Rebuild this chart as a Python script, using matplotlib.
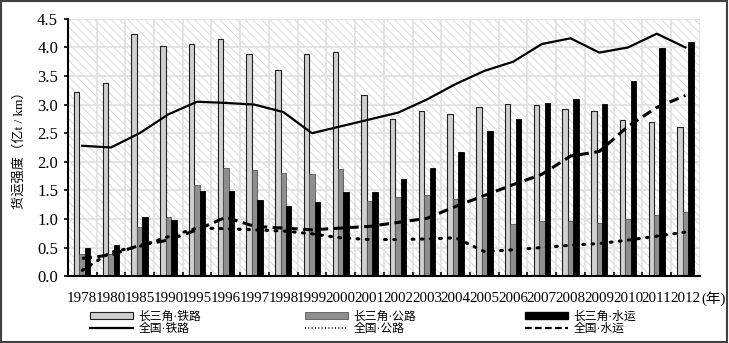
import matplotlib.pyplot as plt
import numpy as np
from matplotlib.lines import Line2D
from matplotlib.patches import Patch, Rectangle

plt.rcParams["font.family"] = ["Liberation Serif", "Noto Sans CJK SC"]
plt.rcParams["hatch.linewidth"] = 0.6
plt.rcParams["hatch.color"] = "#cfcfcf"

YEARS = ["1978", "1980", "1985", "1990", "1995", "1996", "1997", "1998", "1999", "2000", "2001",
         "2002", "2003", "2004", "2005", "2006", "2007", "2008", "2009", "2010", "2011", "2012"]

# Yangtze River Delta freight intensity (bars)
yrd_rail = [3.22, 3.37, 4.23, 4.03, 4.06, 4.14, 3.88, 3.61, 3.89, 3.92, 3.17,
            2.75, 2.89, 2.84, 2.95, 3.01, 3.00, 2.92, 2.89, 2.73, 2.70, 2.60]
yrd_road = [0.39, 0.39, 0.86, 1.03, 1.60, 1.89, 1.85, 1.81, 1.78, 1.88, 1.32,
            1.38, 1.42, 1.35, 1.37, 0.91, 0.97, 0.97, 0.93, 1.00, 1.07, 1.12]
yrd_water = [0.50, 0.54, 1.04, 0.98, 1.49, 1.49, 1.33, 1.22, 1.30, 1.48, 1.48,
             1.70, 1.89, 2.17, 2.54, 2.74, 3.03, 3.09, 3.01, 3.41, 3.99, 4.09]

# national averages (lines)
nat_rail = [2.28, 2.25, 2.50, 2.83, 3.05, 3.03, 3.00, 2.87, 2.50, 2.62, 2.74,
            2.86, 3.09, 3.36, 3.59, 3.75, 4.06, 4.16, 3.91, 4.00, 4.24, 4.00]
nat_road = [0.10, 0.42, 0.52, 0.69, 0.84, 0.83, 0.81, 0.79, 0.74, 0.67, 0.64,
            0.64, 0.65, 0.67, 0.43, 0.46, 0.50, 0.54, 0.57, 0.63, 0.70, 0.77]
nat_water = [0.31, 0.37, 0.54, 0.63, 0.81, 1.03, 0.87, 0.84, 0.81, 0.84, 0.87,
             0.94, 1.01, 1.22, 1.41, 1.60, 1.78, 2.10, 2.18, 2.62, 2.95, 3.16]

LIGHT, MID = "#d0d0d0", "#8e8e8e"
W_PX, H_PX = 729, 343

fig = plt.figure(figsize=(W_PX / 100, H_PX / 100), dpi=100)
ax = fig.add_axes([0.093, 0.195, 0.867, 0.75])

x = np.arange(len(YEARS))
w = 0.19

# hatched background with light grid
ax.add_patch(Rectangle((0, 0), 1, 1, transform=ax.transAxes, facecolor="white",
                       edgecolor="#d4d4d4", hatch="\\\\\\\\", lw=0, zorder=0))
for yv in np.arange(0.5, 4.51, 0.5):
    ax.axhline(yv, color="#e2e2e2", lw=1.3, zorder=0.5)
for xv in np.arange(0.5, len(YEARS), 1):
    ax.axvline(xv, color="#e2e2e2", lw=1.3, zorder=0.5)

ax.bar(x - w, yrd_rail, w, color=LIGHT, edgecolor="#202020", lw=0.8, zorder=2)
ax.bar(x, yrd_road, w, color=MID, edgecolor="#555555", lw=0.6, zorder=2)
ax.bar(x + w, yrd_water, w, color="black", edgecolor="black", lw=0.6, zorder=2)

dot_ls = (0, (0.6, 2.4))
dash_ls = (0, (3.2, 1.8))
ax.plot(x, nat_rail, color="black", lw=1.6, zorder=3)
ax.plot(x, nat_road, color="black", lw=2.2, ls=dot_ls, dash_capstyle="round", zorder=3)
ax.plot(x, nat_water, color="black", lw=2.2, ls=dash_ls, zorder=3)

ax.set_xlim(-0.5, len(YEARS) - 0.5)
ax.set_ylim(0, 4.5)
ax.set_yticks(np.arange(0, 4.51, 0.5))
ax.set_yticklabels([f"{v:.1f}" for v in np.arange(0, 4.51, 0.5)], fontsize=12)
ax.set_xticks(x)
ax.set_xticklabels(YEARS, fontsize=10.8)
ax.set_xticks(np.arange(0.5, len(YEARS) - 1, 1), minor=True)
ax.tick_params(axis="x", which="major", length=0, pad=11.5)
ax.tick_params(axis="x", which="minor", length=3, direction="in", width=1.2)
ax.tick_params(axis="y", length=3, direction="out", width=1.2, pad=4)
for side in ("top", "right"):
    ax.spines[side].set_visible(False)
for side in ("left", "bottom"):
    ax.spines[side].set_linewidth(1.5)

ax.set_ylabel("货运强度（亿t / km）", fontsize=9.5, labelpad=8)
fig.text(701 / W_PX, 1 - 299 / H_PX, "(年)", fontsize=10.5, va="center", ha="left")


def entry(handle, label, xpx, ypx):
    # one legend item, anchored by its left edge in pixel units
    leg = fig.legend([handle], [label], loc="center left",
                     bbox_to_anchor=(xpx / W_PX, 1 - ypx / H_PX), frameon=False,
                     fontsize=8.5, handlelength=3.6, handleheight=0.5,
                     handletextpad=0.5, borderpad=0, borderaxespad=0)
    return leg


entry(Patch(facecolor=LIGHT, edgecolor="#202020", lw=0.8), "长三角·铁路", 90, 317)
entry(Patch(facecolor=MID, edgecolor="#555555", lw=0.6), "长三角·公路", 305, 317)
entry(Patch(facecolor="black", edgecolor="black"), "长三角·水运", 525, 317)
entry(Line2D([], [], color="black", lw=1.6), "全国·铁路", 90, 329)
entry(Line2D([], [], color="black", lw=1.2, ls=(0, (0.6, 1.4))), "全国·公路", 305, 329)
entry(Line2D([], [], color="black", lw=1.6, ls=(0, (3, 1.5))), "全国·水运", 525, 329)

fig.patches.append(Rectangle((0.002, 0.003), 0.995, 0.993, transform=fig.transFigure,
                             fill=False, edgecolor="#404040", lw=1.5))

fig.savefig("out.png", dpi=100)
